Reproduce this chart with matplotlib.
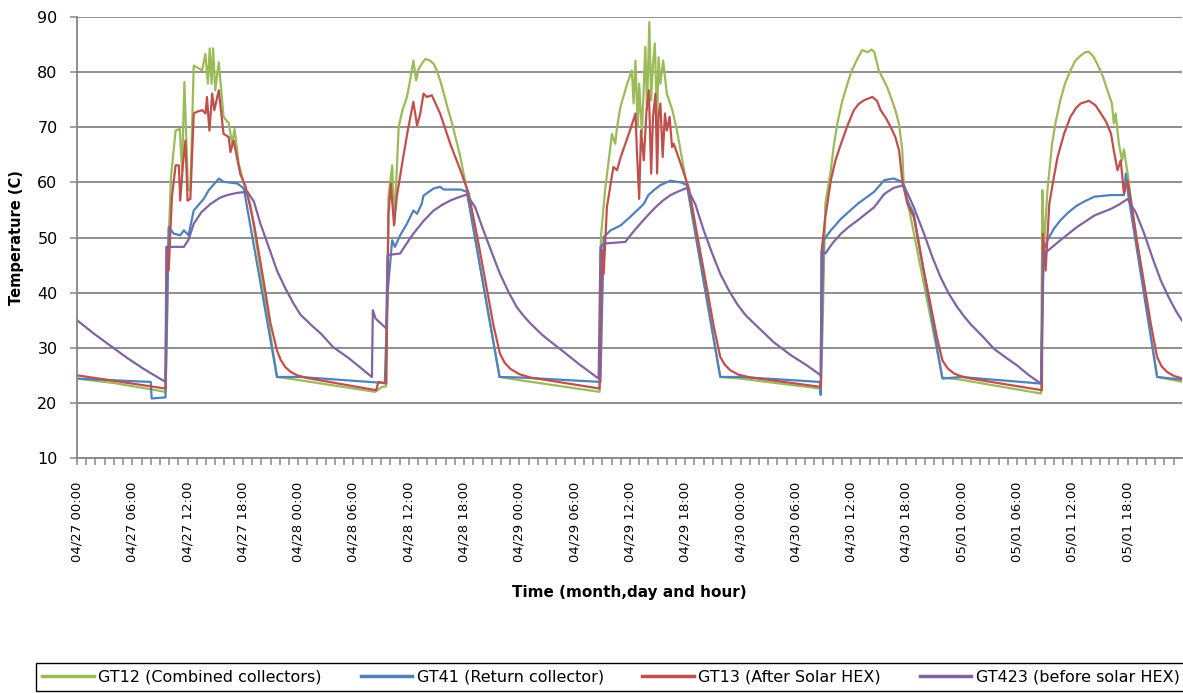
import numpy as np
import matplotlib
matplotlib.use("Agg")
import matplotlib.pyplot as plt
import matplotlib.dates as mdates

# hours after 04/27 00:00, temperatures
start = np.datetime64("2012-04-27T00:00")

gt12_h = [0, 4, 9.6, 9.75, 9.9, 10.2, 10.7, 11.15, 11.4, 11.65, 12.05, 12.3, 12.67, 13.0, 13.57,
          13.93, 14.2, 14.4, 14.6, 14.77, 15.0, 15.38, 15.9, 16.47, 16.83, 17.1, 17.55, 18.1, 18.8,
          21.7, 24.2, 32.35, 33.1, 33.55, 33.8, 34.2, 34.45, 34.9, 35.3, 35.8, 36.2, 36.5, 36.8,
          37.05, 37.4, 37.8, 38.3, 38.7, 39.05, 39.4, 39.8, 40.2, 40.7, 41.1, 41.6, 42.3, 45.85,
          48.1, 56.7, 56.85, 57.3, 58.05, 58.4, 58.6, 58.96, 59.7, 60.2, 60.4, 60.6, 60.85, 61.0,
          61.3, 61.67, 61.85, 62.1, 62.3, 62.5, 62.7, 62.95, 63.1, 63.3, 63.6, 64.0, 64.6, 65.1,
          66.2, 69.8, 72.0, 80.6, 80.7, 80.9, 81.2, 81.8, 82.1, 82.5, 83.0, 83.6, 84.0, 84.5, 84.8,
          85.2, 85.8, 86.2, 86.5, 87.0, 87.4, 87.9, 88.3, 88.8, 89.2, 89.55, 89.7, 90.1, 93.9,
          95.9, 104.6, 104.75, 104.9, 105.3, 105.8, 106.2, 106.7, 107.2, 107.8, 108.3, 108.9,
          109.4, 109.8, 110.3, 110.7, 111.3, 111.8, 112.3, 112.5, 112.7, 113.05, 113.4, 113.6,
          114.0, 114.3, 117.2, 120]
gt12_t = [24.4, 23.6, 22.0, 32.0, 47.7, 61.0, 69.4, 69.7, 62.2, 78.2, 58.6, 58.6, 81.2, 80.9, 80.3,
          83.3, 77.9, 84.3, 77.9, 84.3, 76.7, 81.8, 71.9, 70.7, 67.0, 69.7, 63.4, 59.8, 56.1,
          24.7, 24.1, 22.0, 22.9, 23.0, 57.4, 63.1, 52.5, 70.0, 73.0, 75.5, 79.0, 82.1, 78.5,
          80.5, 81.5, 82.4, 82.1, 81.5, 80.3, 78.5, 76.1, 73.6, 70.7, 68.0, 64.6, 58.6, 24.7,
          24.1, 22.0, 50.1, 58.6, 68.8, 67.0, 70.0, 73.7, 77.9, 80.3, 74.3, 82.1, 70.0, 77.9,
          68.8, 84.6, 73.1, 89.1, 74.9, 81.5, 85.2, 70.7, 82.7, 77.9, 82.1, 76.1, 73.1, 69.4,
          59.2, 24.7, 24.4, 22.6, 21.4, 33.8, 56.1, 62.2, 66.5, 70.7, 74.5, 77.9, 80.0, 81.8, 82.8,
          84.0, 83.6, 84.1, 83.7, 80.3, 79.0, 77.3, 75.5, 73.1, 70.5, 65.8, 59.8, 56.7, 24.6,
          24.2, 21.7, 58.6, 47.7, 58.6, 67.0, 71.0, 74.9, 77.9, 80.3, 82.0, 83.0,
          83.6, 83.7, 82.8, 81.5, 79.3, 76.7, 74.3, 70.7, 72.5, 67.0, 64.0, 66.0,
          61.6, 57.4, 24.7, 23.8]

gt41_h = [0, 8.0, 8.1, 9.6, 9.95, 10.5, 11.2, 11.6, 12.1, 12.67, 13.75, 14.3, 15.4, 15.9, 17.4, 18.1,
          21.7, 24.2, 33.4, 33.7, 34.2, 34.5, 35.07, 35.8, 36.5, 36.9, 37.4, 37.6, 38.7, 39.4, 39.8,
          41.6, 42.3, 45.85, 48.1, 56.8, 57.15, 57.9, 59.0, 60.0, 60.95, 61.5, 62.0, 62.6, 63.3,
          64.4, 65.5, 66.2, 69.8, 72.0, 80.6, 80.7, 81.0, 81.8, 82.9, 84.7, 86.5, 87.6, 88.6, 89.55,
          90.1, 90.8, 93.9, 95.9, 104.6, 104.9, 105.3, 106.0, 106.7, 107.6, 108.5, 109.5, 110.4,
          112.2, 113.6, 113.8, 114.1, 117.2, 120]
gt41_t = [24.4, 23.8, 20.8, 21.0, 51.9, 50.7, 50.4, 51.3, 50.4, 54.9, 57.0, 58.6, 60.7, 60.1, 59.8, 58.9,
          24.7, 24.7, 23.6, 40.0, 49.5, 48.3, 50.4, 52.5, 54.9, 54.3, 56.1, 57.6, 58.9, 59.2, 58.7,
          58.7, 58.3, 24.7, 24.6, 23.8, 50.1, 51.3, 52.2, 53.7, 55.2, 56.1, 57.7, 58.6, 59.5,
          60.3, 60.0, 59.5, 24.7, 24.7, 23.8, 21.5, 49.5, 51.3, 53.4, 56.1, 58.3, 60.4, 60.7, 60.1,
          56.7, 54.3, 24.4, 24.7, 23.5, 47.7, 49.5, 51.6, 53.1, 54.6, 55.8, 56.7, 57.4,
          57.7, 57.7, 61.6, 57.4, 24.7, 24.2]

gt13_h = [0, 9.6, 9.75, 9.95, 10.3, 10.7, 11.05, 11.2, 11.5, 11.76, 12.0, 12.3, 12.67, 13.0, 13.6,
          13.95, 14.1, 14.37, 14.66, 14.9, 15.38, 15.9, 16.47, 16.65, 17.0, 17.7, 18.3, 19.2, 20.3,
          21.0, 21.7, 22.1, 22.6, 23.2, 23.9, 25.0, 32.46, 32.7, 33.55, 33.8, 34.05, 34.4, 34.7,
          35.4, 35.9, 36.5, 36.9, 37.25, 37.6, 37.95, 38.5, 39.4, 40.5, 41.6, 42.5, 43.5, 44.5,
          45.2, 45.9, 46.4, 47.0, 48.0, 49.2, 56.7, 56.97, 57.15, 57.5, 58.2, 58.6, 59.0, 60.0,
          60.6, 60.75, 61.0, 61.2, 61.5, 61.8, 62.05, 62.3, 62.5, 62.76, 62.95, 63.1, 63.3, 63.55,
          63.8, 64.0, 64.3, 64.57, 64.75, 65.5, 66.4, 67.4, 68.4, 69.1, 69.8, 70.3, 70.9, 71.8,
          73.1, 80.7, 80.8, 81.2, 81.8, 82.3, 82.9, 83.6, 84.3, 84.8, 85.4, 86.3, 86.8, 87.2, 87.8,
          88.3, 88.8, 89.2, 89.55, 90.1, 90.8, 91.7, 92.6, 93.3, 93.9, 94.5, 95.2, 96.0, 97.0,
          104.7, 104.8, 105.1, 105.5, 106.0, 106.4, 107.1, 107.8, 108.4, 108.9, 109.8, 110.5,
          111.1, 111.7, 112.2, 112.5, 112.9, 113.25, 113.6, 114.0, 114.3, 115.0, 115.8, 116.5,
          117.2, 117.7, 118.3, 119.0, 120]
gt13_t = [25.0, 22.6, 48.3, 44.0, 57.4, 63.1, 63.1, 56.7, 63.4, 67.6, 56.7, 57.0, 72.5, 72.8, 73.1,
          72.5, 75.5, 69.4, 76.1, 73.1, 76.7, 68.8, 68.2, 65.5, 67.6, 61.6, 59.2, 52.5, 41.6,
          34.4, 29.5, 27.8, 26.5, 25.6, 25.0, 24.5, 22.3, 23.8, 23.5, 54.3, 59.8, 52.2, 57.4,
          64.6, 69.5, 74.6, 70.3, 72.5, 76.1, 75.5, 75.8, 72.5, 67.0, 62.2, 58.0, 49.5, 40.4,
          34.0, 28.9, 27.3, 26.2, 25.2, 24.6, 22.6, 47.7, 43.4, 55.5, 62.8, 62.2, 64.6, 69.4,
          72.5, 65.8, 57.0, 69.4, 64.0, 73.1, 76.7, 61.6, 71.9, 76.1, 61.6, 71.9, 74.3, 64.6,
          72.5, 69.4, 71.9, 66.4, 67.0, 63.4, 58.9, 49.5, 40.4, 33.8, 28.3, 26.9, 25.9, 25.1,
          24.6, 22.9, 47.7, 53.7, 60.4, 64.0, 67.0, 70.3, 73.1, 74.2, 74.9, 75.5, 74.8, 73.1, 71.6,
          70.0, 68.2, 65.8, 60.4, 56.1, 53.7, 45.5, 38.0, 32.0, 27.7, 26.2, 25.3, 24.8, 24.4,
          22.3, 50.7, 44.0, 56.1, 61.0, 64.6, 68.8, 71.9, 73.5, 74.3, 74.8, 74.0,
          72.5, 70.9, 68.8, 65.8, 62.2, 64.0, 58.0, 60.4, 57.4, 49.5, 41.6, 34.5,
          28.3, 26.6, 25.6, 24.9, 24.4]

gt423_h = [0, 1.8, 3.6, 5.4, 7.2, 8.4, 9.6, 9.7, 11.6, 12.1, 12.67, 13.5, 14.5, 15.5, 16.3, 17.4,
           18.5, 19.2, 19.9, 20.8, 21.7, 22.6, 23.5, 24.25, 25.5, 26.5, 27.8, 29.5, 32.0, 32.1,
           32.4, 33.55, 33.7, 35.07, 35.8, 36.5, 37.6, 38.7, 39.6, 40.5, 41.4, 42.3, 43.2, 44.1,
           45.0, 45.9, 46.8, 47.7, 48.4, 49.2, 50.5, 51.7, 53.0, 54.5, 56.6, 56.8, 57.15, 59.5,
           60.1, 60.8, 61.7, 62.6, 63.5, 64.4, 65.3, 66.2, 67.1, 68.0, 68.9, 69.8, 70.7, 71.6,
           72.5, 73.1, 75.6, 77.5, 79.2, 80.7, 80.8, 81.2, 82.0, 82.9, 83.8, 84.7, 85.6, 86.5,
           87.6, 88.6, 89.7, 90.8, 91.9, 92.8, 93.7, 94.6, 95.5, 96.3, 97.0, 98.3, 99.5, 100.8,
           102.0, 103.3, 104.6, 104.85, 105.4, 106.7, 107.6, 108.5, 109.5, 110.4, 111.3, 112.2,
           113.1, 114.0, 114.9, 115.8, 116.7, 117.6, 118.5, 119.3, 120]
gt423_t = [35.0, 32.6, 30.4, 28.2, 26.2, 25.0, 23.8, 48.3, 48.3, 49.6, 52.5, 54.6, 56.1, 57.2, 57.7, 58.1,
           58.3, 56.5, 52.5, 48.3, 44.0, 40.8, 38.0, 36.0, 34.0, 32.5, 30.1, 28.1, 24.7, 36.8,
           35.3, 33.5, 46.8, 47.1, 49.0, 50.7, 53.0, 54.9, 55.9, 56.7, 57.3, 57.8, 55.5, 51.3,
           47.3, 43.4, 40.2, 37.4, 35.9, 34.4, 32.3, 30.7, 29.0, 27.0, 24.4, 48.3, 48.9, 49.2,
           50.5, 51.9, 53.6, 55.2, 56.6, 57.7, 58.4, 59.0, 56.0, 51.3, 47.2, 43.4, 40.5, 38.0,
           36.0, 35.0, 31.0, 28.6, 26.8, 25.0, 47.4, 47.1, 49.0, 50.7, 52.0, 53.1, 54.3, 55.5,
           57.9, 59.0, 59.5, 55.5, 50.7, 46.5, 42.8, 39.8, 37.4, 35.6, 34.2, 32.0, 29.8, 28.2,
           26.8, 25.0, 23.5, 47.1, 47.7, 49.5, 50.7, 51.9, 53.0, 54.0, 54.6, 55.2,
           56.0, 57.0, 54.5, 50.7, 46.3, 42.2, 39.0, 36.5, 34.7]

series = [
    ("GT12 (Combined collectors)", gt12_h, gt12_t, "#9BBB59"),
    ("GT41 (Return collector)", gt41_h, gt41_t, "#4F81BD"),
    ("GT13 (After Solar HEX)", gt13_h, gt13_t, "#C0504D"),
    ("GT423 (before solar HEX)", gt423_h, gt423_t, "#8064A2"),
]


def to_time(hours):
    return start + (np.array(hours) * 60).round().astype("timedelta64[m]")


fig = plt.figure(figsize=(11.83, 6.93), dpi=100)
ax = fig.add_axes([77 / 1183, 1 - 458 / 693, 1105 / 1183, 441 / 693])

for name, h, t, c in series:
    ax.plot(to_time(h), t, color=c, lw=1.6, label=name)

ax.set_ylim(10, 90)
ax.set_yticks(range(10, 91, 10))
ax.set_xlim(to_time([0])[0], to_time([119.9])[0])
ax.xaxis.set_major_locator(mdates.HourLocator(byhour=[0, 6, 12, 18]))
ax.xaxis.set_minor_locator(mdates.HourLocator())
ax.xaxis.set_major_formatter(mdates.DateFormatter("%m/%d %H:%M"))

ax.grid(axis="y", color="#868686", lw=1.3)
ax.set_axisbelow(True)
for side in ["top", "right"]:
    ax.spines[side].set_visible(False)
for side in ["left", "bottom"]:
    ax.spines[side].set_color("#868686")
    ax.spines[side].set_linewidth(1.3)

ax.tick_params(axis="both", which="both", color="#868686", width=1.1, length=5, direction="out")
ax.tick_params(axis="x", labelsize=9.5, rotation=90, pad=12)
ax.tick_params(axis="y", labelsize=11.5, pad=9)

fig.text(16.5 / 1183, 1 - 237.5 / 693, "Temperature (C)", rotation=90, ha="center", va="center",
         fontsize=10.5, fontweight="bold")
fig.text(629.5 / 1183, 1 - 592 / 693, "Time (month,day and hour)", ha="center", va="center",
         fontsize=11, fontweight="bold")

leg = fig.legend(loc="lower left", bbox_to_anchor=(36 / 1183, 2 / 693, 1150 / 1183, 36 / 693),
                 mode="expand", ncol=4, fontsize=11.5, handlelength=3.2, handletextpad=0.3,
                 fancybox=False, framealpha=1, borderaxespad=0)
leg.get_frame().set_edgecolor("#000000")
leg.get_frame().set_linewidth(1.0)
for line in leg.get_lines():
    line.set_linewidth(2.5)

fig.savefig("out.png", dpi=100)
